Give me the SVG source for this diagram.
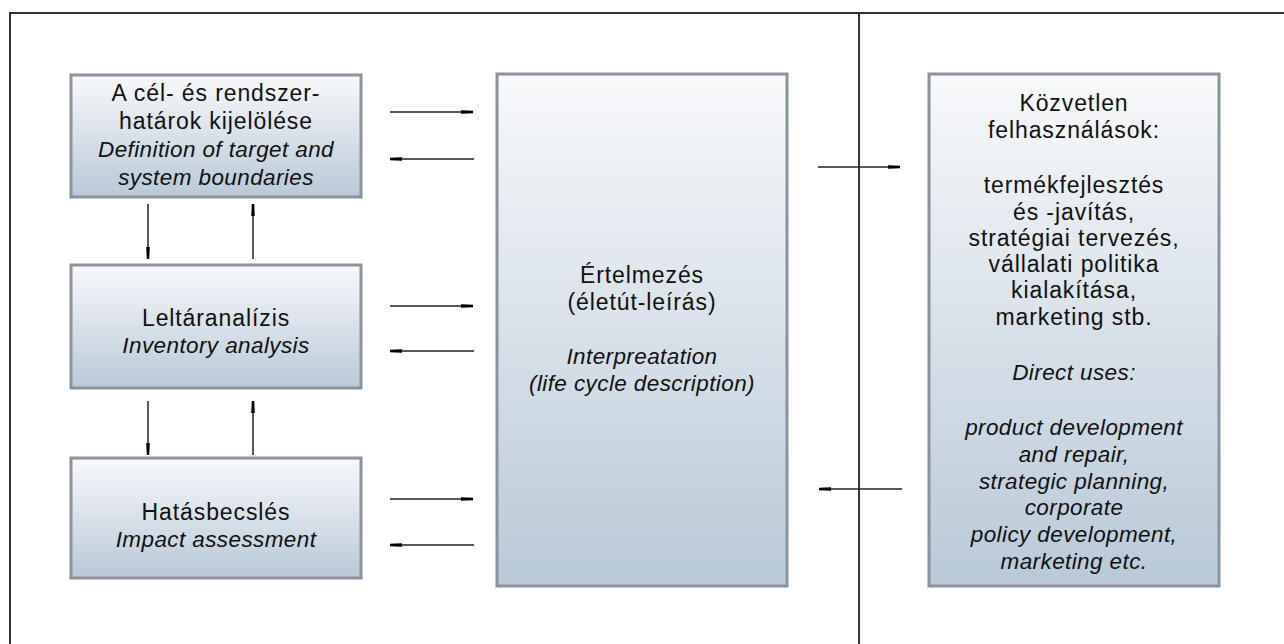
<svg xmlns="http://www.w3.org/2000/svg" width="1284" height="644" viewBox="0 0 1284 644">
<defs>
<linearGradient id="g" x1="0" y1="0" x2="0" y2="1">
<stop offset="0" stop-color="#f8f9fb"/>
<stop offset="1" stop-color="#b8c9d8"/>
</linearGradient>
<marker id="ah" viewBox="0 0 12 6" refX="12" refY="3" markerWidth="12" markerHeight="6" markerUnits="userSpaceOnUse" orient="auto">
<path d="M0,1.2 L12,1.8 L12,4.2 L0,4.8 Z" fill="#000"/>
</marker>
<style>
.box{fill:url(#g);stroke:#8b929b;stroke-width:3}
.t{font-family:"Liberation Sans",Arial,sans-serif;font-size:23px;letter-spacing:0.9px;fill:#111;text-anchor:middle}
.i{font-style:italic;font-size:22.5px;letter-spacing:0.4px}
.c{stroke:#222;stroke-width:1.5;fill:none;marker-end:url(#ah)}
.f{stroke:#333;stroke-width:2;fill:none}
</style>
</defs>
<rect width="1284" height="644" fill="#fff"/>
<g id="frame">
<path class="f" d="M10,644 V13 H1284"/>
<path class="f" d="M859,13 V644" stroke="#000"/>
</g>
<g id="n1">
<rect class="box" x="71" y="75" width="290" height="122"/>
<text class="t" x="216" y="101">A cél- és rendszer-</text>
<text class="t" x="216" y="129">határok kijelölése</text>
<text class="t i" x="216" y="157">Definition of target and</text>
<text class="t i" x="216" y="185">system boundaries</text>
</g>
<g id="n2">
<rect class="box" x="71" y="265" width="290" height="123"/>
<text class="t" x="216" y="326">Leltáranalízis</text>
<text class="t i" x="216" y="353">Inventory analysis</text>
</g>
<g id="n3">
<rect class="box" x="71" y="458" width="290" height="120"/>
<text class="t" x="216" y="520">Hatásbecslés</text>
<text class="t i" x="216" y="547">Impact assessment</text>
</g>
<g id="n4">
<rect class="box" x="497" y="74" width="290" height="512"/>
<text class="t" x="642" y="283">Értelmezés</text>
<text class="t" x="642" y="310">(életút-leírás)</text>
<text class="t i" x="642" y="364">Interpreatation</text>
<text class="t i" x="642" y="391">(life cycle description)</text>
</g>
<g id="n5">
<rect class="box" x="929" y="74" width="290" height="512"/>
<text class="t" x="1074" y="111">Közvetlen</text>
<text class="t" x="1074" y="138">felhasználások:</text>
<text class="t" x="1074" y="193">termékfejlesztés</text>
<text class="t" x="1074" y="220">és -javítás,</text>
<text class="t" x="1074" y="246">stratégiai tervezés,</text>
<text class="t" x="1074" y="272">vállalati politika</text>
<text class="t" x="1074" y="298">kialakítása,</text>
<text class="t" x="1074" y="325">marketing stb.</text>
<text class="t i" x="1074" y="380">Direct uses:</text>
<text class="t i" x="1074" y="435">product development</text>
<text class="t i" x="1074" y="462">and repair,</text>
<text class="t i" x="1074" y="489">strategic planning,</text>
<text class="t i" x="1074" y="515">corporate</text>
<text class="t i" x="1074" y="542">policy development,</text>
<text class="t i" x="1074" y="569">marketing etc.</text>
</g>
<g id="connectors">
<line class="c" x1="390" y1="112" x2="473" y2="112"/>
<line class="c" x1="474" y1="159" x2="390" y2="159"/>
<line class="c" x1="390" y1="306" x2="473" y2="306"/>
<line class="c" x1="474" y1="351" x2="390" y2="351"/>
<line class="c" x1="390" y1="499" x2="473" y2="499"/>
<line class="c" x1="474" y1="545" x2="390" y2="545"/>
<line class="c" x1="148" y1="204" x2="148" y2="259"/>
<line class="c" x1="253" y1="259" x2="253" y2="204"/>
<line class="c" x1="148" y1="401" x2="148" y2="455"/>
<line class="c" x1="253" y1="455" x2="253" y2="401"/>
<line class="c" x1="818" y1="167" x2="900" y2="167"/>
<line class="c" x1="902" y1="489" x2="819" y2="489"/>
</g>
</svg>
